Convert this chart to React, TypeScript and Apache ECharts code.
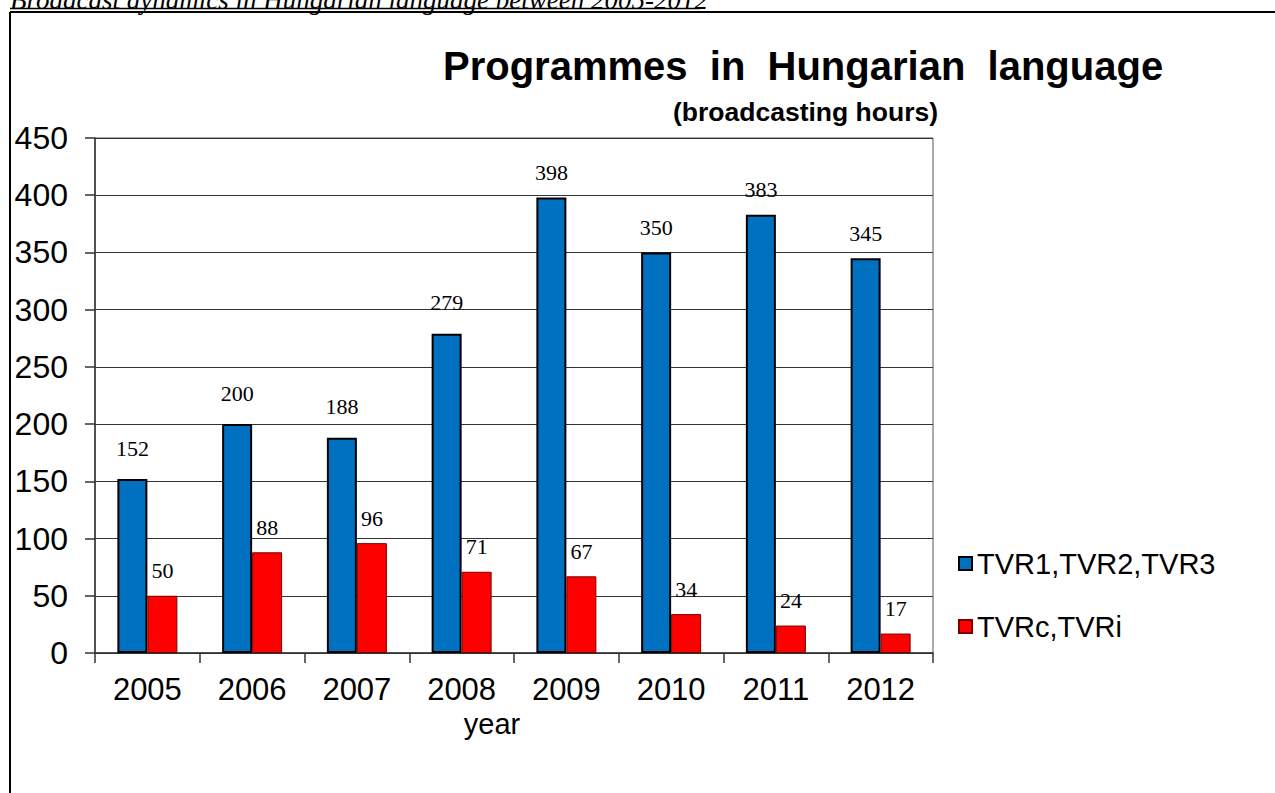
import React, { useEffect, useRef } from "react";
import * as echarts from "echarts";

const years = ["2005", "2006", "2007", "2008", "2009", "2010", "2011", "2012"];
const tvrMain = [152, 200, 188, 279, 398, 350, 383, 345];
const tvrRegional = [50, 88, 96, 71, 67, 34, 24, 17];
const seriesNames = ["TVR1,TVR2,TVR3", "TVRc,TVRi"];
const yTicks = { min: 0, max: 450, interval: 50 };

export default function App() {
  const ref = useRef<HTMLDivElement>(null);
  useEffect(() => {
    if (!ref.current) return;
    const chart = echarts.init(ref.current, null, { renderer: "svg" });
    const labelFont = "Liberation Serif";
    chart.setOption({
      animation: false,
      backgroundColor: "#ffffff",
      title: [
        {
          text: "Programmes  in  Hungarian  language",
          left: 438,
          top: 41,
          textStyle: { fontFamily: "Arial", fontWeight: "bold", fontSize: 40, color: "#000" },
        },
        {
          text: "(broadcasting hours)",
          left: 668,
          top: 93,
          textStyle: { fontFamily: "Arial", fontWeight: "bold", fontSize: 26.5, color: "#000" },
        },
      ],
      legend: {
        orient: "vertical",
        left: 953,
        top: 544,
        itemGap: 34,
        itemWidth: 13,
        itemHeight: 13,
        icon: "rect",
        textStyle: { fontFamily: "Arial", fontSize: 29, color: "#000" },
        data: seriesNames,
      },
      grid: {
        left: 95,
        right: 342,
        top: 138,
        bottom: 140,
        show: true,
        borderColor: "#555",
        borderWidth: 1,
        containLabel: false,
      },
      xAxis: {
        type: "category",
        data: years,
        name: "year",
        nameLocation: "middle",
        nameGap: 52,
        nameTextStyle: { fontFamily: "Arial", fontSize: 29, color: "#000", padding: [0, 44, 0, 0] },
        axisLine: { show: true, lineStyle: { color: "#333", width: 1.5 } },
        axisTick: { show: true, alignWithLabel: false, length: 10, lineStyle: { color: "#333", width: 1.5 } },
        axisLabel: { fontFamily: "Arial", fontSize: 31, color: "#000", margin: 21 },
      },
      yAxis: {
        type: "value",
        min: yTicks.min,
        max: yTicks.max,
        interval: yTicks.interval,
        axisLine: { show: true, lineStyle: { color: "#333", width: 1.5 } },
        axisTick: { show: true, length: 10, lineStyle: { color: "#333", width: 1.5 } },
        axisLabel: { fontFamily: "Arial", fontSize: 32, color: "#000", margin: 27 },
        splitLine: { show: true, lineStyle: { color: "#333", width: 1.2 } },
      },
      graphic: [
        {
          type: "line",
          shape: { x1: 10, y1: 12, x2: 1275, y2: 12 },
          style: { stroke: "#000", lineWidth: 2 },
        },
        {
          type: "line",
          shape: { x1: 10, y1: 12, x2: 10, y2: 793 },
          style: { stroke: "#000", lineWidth: 2 },
        },
        {
          type: "text",
          x: 10,
          y: 13,
          style: {
            text: "Broadcast dynamics in Hungarian language between 2005-2012",
            font: "italic 27px 'Liberation Serif'",
            fill: "#000",
            verticalAlign: "bottom",
          },
        },
        {
          type: "line",
          shape: { x1: 10, y1: 8.5, x2: 700, y2: 8.5 },
          style: { stroke: "#000", lineWidth: 1.5 },
        },
      ],
      series: [
        {
          name: seriesNames[0],
          type: "bar",
          barWidth: 30,
          barGap: "0%",
          itemStyle: { color: "#0070C0", borderColor: "#000", borderWidth: 2 },
          data: tvrMain.map((v, i) => ({
            value: v,
            label: { distance: i < 4 ? 20 : 14 },
          })),
          label: {
            show: true,
            position: "top",
            fontFamily: labelFont,
            fontSize: 22,
            color: "#000",
          },
        },
        {
          name: seriesNames[1],
          type: "bar",
          barWidth: 30,
          barGap: "0%",
          itemStyle: { color: "#FF0000", borderColor: "#7a0000", borderWidth: 1 },
          data: tvrRegional,
          label: {
            show: true,
            position: "top",
            distance: 14,
            fontFamily: labelFont,
            fontSize: 22,
            color: "#000",
          },
        },
      ],
    });
    return () => chart.dispose();
  }, []);
  return (
    <div
      ref={ref}
      style={{ position: "fixed", left: 0, top: 0, width: 1275, height: 793 }}
    />
  );
}
